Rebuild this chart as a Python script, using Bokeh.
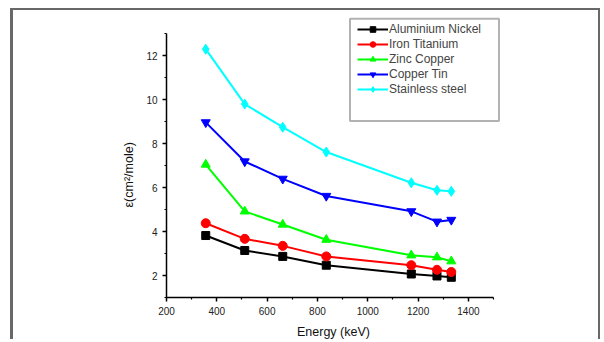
from bokeh.plotting import figure
from bokeh.models import (FixedTicker, Legend, LegendItem, BoxAnnotation, Range1d)
from bokeh.embed import file_html
from bokeh.resources import INLINE

energy = [356, 511, 662, 835, 1173, 1275, 1332]
aluminium_nickel = [3.82, 3.14, 2.87, 2.47, 2.07, 1.98, 1.92]
iron_titanium = [4.38, 3.67, 3.35, 2.87, 2.47, 2.26, 2.16]
zinc_copper = [7.05, 4.92, 4.32, 3.63, 2.92, 2.83, 2.65]
copper_tin = [8.97, 7.19, 6.40, 5.62, 4.92, 4.45, 4.53]
stainless_steel = [12.30, 9.80, 8.75, 7.62, 6.22, 5.88, 5.83]

series_names = ["Aluminium Nickel", "Iron Titanium", "Zinc Copper", "Copper Tin", "Stainless steel"]
series_values = [aluminium_nickel, iron_titanium, zinc_copper, copper_tin, stainless_steel]
series_colors = ["#000000", "#ff0000", "#00ff00", "#0000ff", "#00ffff"]
series_markers = ["square", "circle", "triangle", "inverted_triangle", "diamond"]
series_sizes = [8, 9, 9, 9, 10]

x_ticks = [200, 400, 600, 800, 1000, 1200, 1400]
x_minor = [300, 500, 700, 900, 1100, 1300, 1500]
y_ticks = [2, 4, 6, 8, 10, 12]
y_minor = [1, 3, 5, 7, 9, 11, 13]

FONT = "Liberation Sans"

p = figure(width=590, height=331, output_backend="svg", toolbar_location=None,
           x_range=Range1d(200, 1527.5), y_range=Range1d(1, 14.06),
           min_border_left=153, min_border_right=103, min_border_top=0, min_border_bottom=42)
p.styles = {"margin-left": "10px", "margin-top": "8px",
            "border-left": "3px solid #686868", "border-top": "2.5px solid #686868",
            "border-right": "2px solid #686868"}
p.outline_line_color = None
p.background_fill_color = "white"
p.border_fill_color = "white"
p.xgrid.visible = False
p.ygrid.visible = False

items = []
for name, vals, col, mk, sz in zip(series_names, series_values, series_colors, series_markers, series_sizes):
    ln = p.line(energy, vals, line_color=col, line_width=2)
    sc = p.scatter(energy, vals, marker=mk, size=sz, fill_color=col, line_color=col)
    items.append(LegendItem(label=name, renderers=[ln, sc]))

for ax in (p.xaxis[0], p.yaxis[0]):
    ax.axis_line_width = 1.5
    ax.axis_line_color = "black"
    ax.major_tick_line_width = 1.5
    ax.minor_tick_line_width = 1.2
    ax.major_tick_out = 4
    ax.major_tick_in = 0
    ax.minor_tick_out = 2
    ax.minor_tick_in = 0
    ax.major_label_text_font = FONT
    ax.major_label_text_font_size = "10px"
    ax.major_label_text_color = "#222222"
    ax.axis_label_text_font = FONT
    ax.axis_label_text_font_size = "12.5px"
    ax.axis_label_text_font_style = "normal"
    ax.axis_label_text_color = "#111111"
    ax.major_label_standoff = 5
    ax.axis_label_standoff = 7

p.xaxis[0].ticker = FixedTicker(ticks=x_ticks, minor_ticks=x_minor)
p.yaxis[0].ticker = FixedTicker(ticks=y_ticks, minor_ticks=y_minor)
p.xaxis[0].bounds = (200, 1500)
p.yaxis[0].bounds = (1, 13)
p.xaxis[0].axis_label = "Energy (keV)"
p.yaxis[0].axis_label = "ε(cm²/mole)" + "\u00a0" * 12

legend = Legend(items=items, location=(191, 201), padding=0, margin=0,
                border_line_alpha=0, background_fill_alpha=0,
                glyph_width=31, glyph_height=14, label_height=14, spacing=1,
                label_standoff=1, label_text_font=FONT, label_text_font_size="12px")
p.add_layout(legend, "center")

legend_box = BoxAnnotation(left=333.5, right=482.5, top=6.2, bottom=108.5,
                           left_units="canvas", right_units="canvas",
                           top_units="canvas", bottom_units="canvas",
                           fill_alpha=0, line_color="black", line_width=2)
p.add_layout(legend_box)

open("out.html", "w").write(file_html(p, INLINE))
